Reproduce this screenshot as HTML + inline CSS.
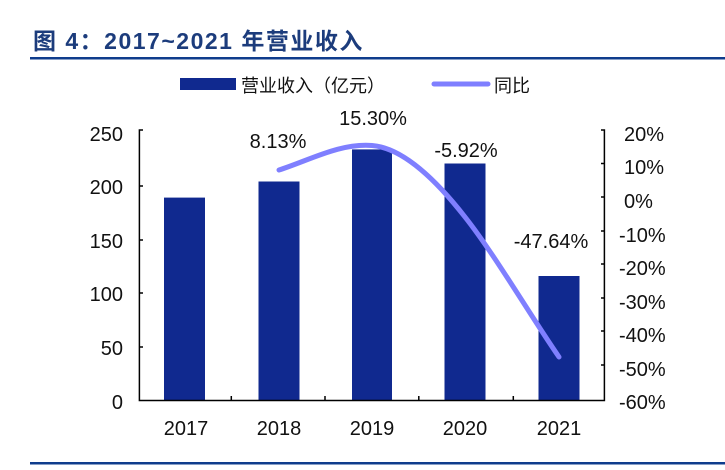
<!DOCTYPE html>
<html><head><meta charset="utf-8"><style>
body{margin:0;background:#fff;}
svg text{font-family:"Liberation Sans","Noto Sans CJK SC",sans-serif;}
</style></head><body>
<svg width="725" height="465" viewBox="0 0 725 465" xmlns="http://www.w3.org/2000/svg">
<text x="33" y="49" font-size="23" font-weight="bold" fill="#1C3C7C" letter-spacing="1.5">图 4：2017~2021 年营业收入</text>
<rect x="30" y="57" width="695" height="2.5" fill="#0F3C8C"/>
<rect x="30" y="462" width="695" height="2.5" fill="#0F3C8C"/>
<rect x="180" y="78" width="56" height="12" fill="#10298F"/>
<text x="241" y="92" font-size="18" fill="#111">营业收入（亿元）</text>
<line x1="434" y1="84" x2="488" y2="84" stroke="#7F7FFF" stroke-width="5" stroke-linecap="round"/>
<text x="494" y="92" font-size="18" fill="#111">同比</text>
<g fill="#10298F">
<rect x="164" y="197.6" width="41" height="203"/>
<rect x="258.5" y="181.5" width="41" height="219"/>
<rect x="352" y="149.4" width="40" height="251"/>
<rect x="444.5" y="163.5" width="41" height="237"/>
<rect x="538.5" y="276" width="41" height="125"/>
</g>
<g stroke="#000" stroke-width="1.5" fill="none">
<path d="M143,130H139.4V400.5H604.4V130H601"/>
<path d="M139.4,186H143M139.4,240H143M139.4,293H143M139.4,347H143"/>
<path d="M601,163.5H604.4M601,197H604.4M601,231H604.4M601,264H604.4M601,298H604.4M601,331H604.4M601,365H604.4"/>
<path d="M231.3,400.5V396M325,400.5V396M418.8,400.5V396M513.3,400.5V396"/>
</g>
<g font-size="20" fill="#111" text-anchor="end">
<text x="123" y="141">250</text><text x="123" y="194">200</text><text x="123" y="248">150</text>
<text x="123" y="301">100</text><text x="123" y="355">50</text><text x="123" y="409">0</text>
</g>
<g font-size="20" fill="#111">
<text x="624" y="141">20%</text><text x="624" y="174">10%</text><text x="624" y="208">0%</text>
<text x="619" y="242">-10%</text><text x="619" y="275">-20%</text><text x="619" y="309">-30%</text>
<text x="619" y="342">-40%</text><text x="619" y="376">-50%</text><text x="619" y="409">-60%</text>
</g>
<g font-size="20" fill="#111" text-anchor="middle">
<text x="186" y="435">2017</text><text x="279" y="435">2018</text><text x="372" y="435">2019</text>
<text x="465" y="435">2020</text><text x="559" y="435">2021</text>
<text x="278" y="148">8.13%</text><text x="373" y="125">15.30%</text>
<text x="466" y="157">-5.92%</text><text x="551" y="248">-47.64%</text>
</g>
<path d="M279,170 C310,160 340,143 372,145.5 C405,148 440,185 465,217 C495,255 530,315 559,357" fill="none" stroke="#7F7FFF" stroke-width="5" stroke-linecap="round"/>
</svg>
</body></html>
